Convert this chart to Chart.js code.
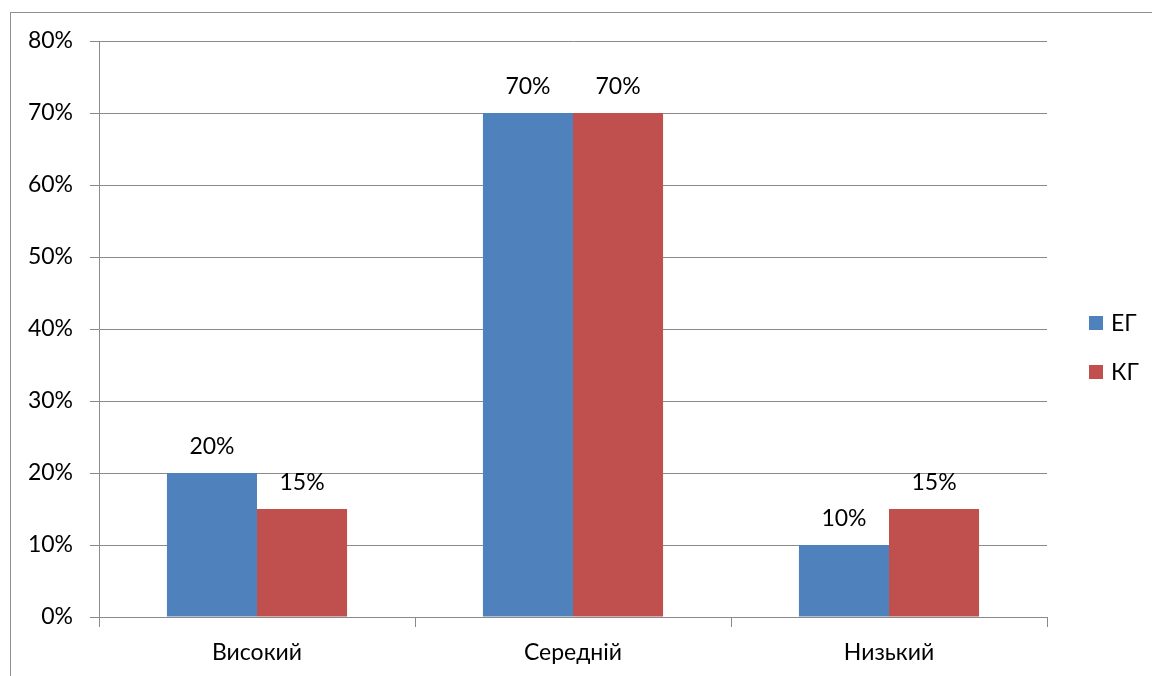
<!DOCTYPE html>
<html>
<head>
<meta charset="utf-8">
<script src="https://cdn.jsdelivr.net/npm/chart.js@4"></script>
<style>
  html, body { margin: 0; padding: 0; background: #fff; }
  #wrap { width: 1152px; height: 676px; }
</style>
</head>
<body>
<div id="wrap"><canvas id="grafico" width="1152" height="676"></canvas></div>
<script>
var categorias = ["Високий", "Середній", "Низький"];
var valoresEG = [20, 70, 10];
var valoresKG = [15, 70, 15];
var nomesSeries = ["ЕГ", "КГ"];
var coresSeries = ["#4F81BD", "#C0504D"];

var fonte = "Lato, 'Liberation Sans', sans-serif";
var tamFonte = 23;
var corGrade = "#8a8a8a";

// moldura externa do grafico (estilo Excel)
const moldura = {
  id: "moldura",
  beforeDraw(chart) {
    const c = chart.ctx;
    c.save();
    c.strokeStyle = "#8f8f8f";
    c.lineWidth = 1;
    c.strokeRect(10.5, 12.5, 1160, 700);
    c.restore();
  }
};

// rotulos de valor acima das barras
const rotulos = {
  id: "rotulos",
  afterDatasetsDraw(chart) {
    const c = chart.ctx;
    c.save();
    c.font = tamFonte + "px " + fonte;
    c.fillStyle = "#000";
    c.textAlign = "center";
    c.textBaseline = "middle";
    chart.data.datasets.forEach(function (ds, i) {
      chart.getDatasetMeta(i).data.forEach(function (bar, j) {
        c.fillText(ds.data[j] + "%", bar.x, bar.y - 26);
      });
    });
    c.restore();
  }
};

// legenda a direita
const legenda = {
  id: "legenda",
  afterDraw(chart) {
    const c = chart.ctx;
    c.save();
    c.font = tamFonte + "px " + fonte;
    c.textBaseline = "middle";
    c.textAlign = "left";
    chart.data.datasets.forEach(function (ds, i) {
      var y = 323 + i * 49;
      c.fillStyle = ds.backgroundColor;
      c.fillRect(1089, y - 7, 14, 14);
      c.fillStyle = "#000";
      c.fillText(ds.label, 1111, y + 1);
    });
    c.restore();
  }
};

const ctx = document.getElementById("grafico").getContext("2d");

const grafico = new Chart(ctx, {
  type: "bar",
  data: {
    labels: categorias,
    datasets: [
      {
        label: nomesSeries[0],
        backgroundColor: coresSeries[0],
        data: valoresEG,
        categoryPercentage: 0.57,
        barPercentage: 1
      },
      {
        label: nomesSeries[1],
        backgroundColor: coresSeries[1],
        data: valoresKG,
        categoryPercentage: 0.57,
        barPercentage: 1
      }
    ]
  },
  options: {
    responsive: false,
    animation: false,
    layout: { padding: { top: 41, right: 105, left: 0, bottom: 0 } },
    plugins: {
      legend: { display: false },
      tooltip: { enabled: false }
    },
    scales: {
      x: {
        afterFit: function (s) { s.height = 59; },
        grid: {
          offset: true,
          drawOnChartArea: false,
          color: corGrade,
          tickLength: 10
        },
        border: { color: corGrade },
        ticks: {
          color: "#000",
          font: { family: fonte, size: tamFonte },
          padding: 12
        }
      },
      y: {
        min: 0,
        max: 80,
        afterFit: function (s) { s.width = 99; },
        grid: { color: corGrade, tickLength: 9 },
        border: { color: corGrade },
        ticks: {
          stepSize: 10,
          color: "#000",
          font: { family: fonte, size: tamFonte },
          padding: 17,
          callback: function (v) { return v + "%"; }
        }
      }
    }
  },
  plugins: [moldura, rotulos, legenda]
});
</script>
</body>
</html>
